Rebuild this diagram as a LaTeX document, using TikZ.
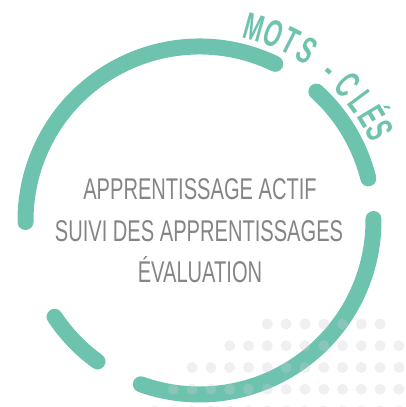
\documentclass[tikz,border=0pt]{standalone}
\usepackage{fontspec}
\setmainfont{Liberation Sans}
\newfontfamily\condfont[FakeStretch=0.67]{Liberation Sans}
\newfontfamily\titrefont[FakeStretch=0.6]{Liberation Sans Bold}
\usetikzlibrary{positioning}

\definecolor{menthe}{HTML}{6DC3AE}
\definecolor{gristexte}{HTML}{858585}
\definecolor{grispoint}{HTML}{CDCBD2}

\tikzset{
  anneau/.style={line width=16pt, line cap=round, draw=menthe},
  motcle/.style={font=\condfont\fontsize{30}{36}\selectfont, text=gristexte, anchor=base, inner sep=0pt},
  lettre/.style={font=\titrefont\fontsize{38}{40}\selectfont, text=menthe, anchor=base, inner sep=0pt},
  pastille/.style={fill=grispoint, fill opacity=0.3},
}

\begin{document}
\begin{tikzpicture}[x=1pt, y=1pt]
    \useasboundingbox (-199.5,-186.5) rectangle (206.5,220.5);

    %anneau en morceaux
    \foreach \a/\b in {64.2/180.5, 213.6/234.1, 250.3/360.5, 14.0/47.8}
      \draw[anneau] (\a:174pt) arc[start angle=\a, end angle=\b, radius=174pt];

    %points gris
    \foreach \r/\kmin/\kmax in {0/0/6, 1/-2/7, 2/-4/7, 3/-5/7, 4/-6/7}
      \foreach \k in {\kmin,...,\kmax}
        \fill[pastille] ({67.8+18.8*\k}, {-103.5-21.75*\r}) circle[radius=5.5pt];

    %titre sur l'anneau
    \foreach \l/\a [count=\i] in {M/74.2, O/68.3, T/63.0, S/57.7, -/49.0, C/42.4, L/36.4, É/31.2, S/26.5}
      \node[lettre, rotate=\a-90] (lettre\i) at (\a:188pt) {\l};

    %mots-cles
    \node[motcle] (actif) at (0.5, 20.5) {APPRENTISSAGE ACTIF};
    \node[motcle] (suivi) at (-0.5, -20.5) {SUIVI DES APPRENTISSAGES};
    \node[motcle] (evaluation) at (0.5, -61.5) {ÉVALUATION};
\end{tikzpicture}
\end{document}
